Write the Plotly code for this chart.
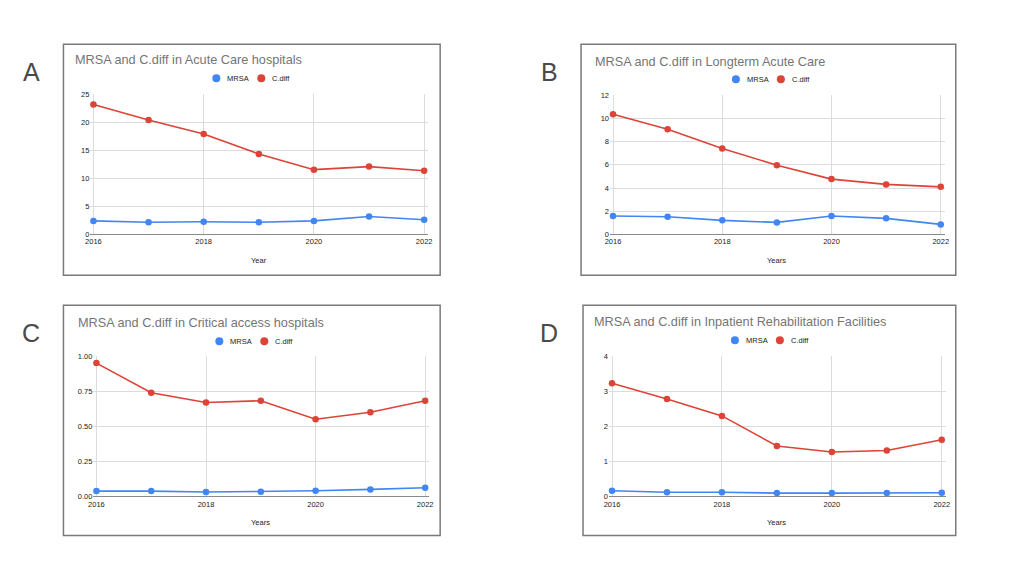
import plotly.graph_objects as go

# data
years = [2016, 2017, 2018, 2019, 2020, 2021, 2022]

acute_mrsa = [2.4, 2.15, 2.25, 2.15, 2.4, 3.2, 2.6]
acute_cdiff = [23.2, 20.4, 17.9, 14.35, 11.55, 12.1, 11.35]

ltac_mrsa = [1.58, 1.52, 1.21, 1.03, 1.58, 1.38, 0.86]
ltac_cdiff = [10.36, 9.07, 7.41, 5.97, 4.77, 4.31, 4.1]

cah_mrsa = [0.038, 0.038, 0.031, 0.033, 0.040, 0.050, 0.062]
cah_cdiff = [0.952, 0.740, 0.671, 0.683, 0.551, 0.601, 0.683]

irf_mrsa = [0.16, 0.12, 0.12, 0.095, 0.095, 0.095, 0.105]
irf_cdiff = [3.23, 2.78, 2.30, 1.44, 1.27, 1.31, 1.62]

series_names = ["MRSA", "C.diff"]
panel_titles = ["MRSA and C.diff in Acute Care hospitals",
                "MRSA and C.diff in Longterm Acute Care",
                "MRSA and C.diff in Critical access hospitals",
                "MRSA and C.diff in Inpatient Rehabilitation Facilities"]
panel_letters = ["A", "B", "C", "D"]
x_titles = ["Year", "Years", "Years", "Years"]
x_ticks = [2016, 2018, 2020, 2022]

W, H = 1024, 570
COLORS = ["#4285F4", "#DB4437"]
FONT = "Liberation Sans, Arial, sans-serif"


# screen pixel -> paper fraction (small correction for how the page gets photographed)
def px(x):
    return ((x - 4.5) / 0.992) / W


def py(y):
    return 1 - ((y - 3.7) / 0.984) / H


# layout in pixels: box, x of 2016 / 2022, y of 0 / top, title, legend dots, letter
panels = [
    dict(box=(63, 44, 440, 275), xl=93, xr=424, yb=234, yt=94, ymax=25, dtick=5, fmt="",
         title=(73, 60), leg=(216, 78), xt=260, letter=(31, 72),
         vals=[acute_mrsa, acute_cdiff]),
    dict(box=(581, 44, 956, 275), xl=613, xr=941, yb=234, yt=95, ymax=12, dtick=2, fmt="",
         title=(593, 62), leg=(736, 79), xt=260, letter=(549, 72),
         vals=[ltac_mrsa, ltac_cdiff]),
    dict(box=(63, 305, 440, 535), xl=96, xr=425, yb=496, yt=356, ymax=1, dtick=0.25, fmt=".2f",
         title=(76, 323), leg=(219, 341), xt=522, letter=(31, 333),
         vals=[cah_mrsa, cah_cdiff]),
    dict(box=(583, 305, 956, 535), xl=612, xr=942, yb=496, yt=356, ymax=4, dtick=1, fmt="",
         title=(592, 322), leg=(735, 340), xt=522, letter=(549, 333),
         vals=[irf_mrsa, irf_cdiff]),
]

fig = go.Figure()
shapes = []
annotations = []
layout = {}

for i, p in enumerate(panels):
    n = "" if i == 0 else str(i + 1)
    xa, ya = "x" + n, "y" + n

    for name, vals, col in zip(series_names, p["vals"], COLORS):
        fig.add_trace(go.Scatter(
            x=years, y=vals, mode="lines+markers", name=name,
            line=dict(color=col, width=1.6), marker=dict(color=col, size=6.5),
            xaxis=xa, yaxis=ya, showlegend=False, cliponaxis=False))

    ppy = (p["xr"] - p["xl"]) / 6.0
    layout["xaxis" + n] = dict(
        domain=[px(p["xl"] - 3), px(p["xr"] + 4)],
        range=[2016 - 3 / ppy, 2022 + 4 / ppy],
        anchor=ya, tickvals=x_ticks, ticks="", showgrid=True,
        gridcolor="#dcdcdc", gridwidth=1, zeroline=False,
        showline=True, linecolor="#8a8a8a", linewidth=1.2,
        tickfont=dict(size=7.5, color="#222222", family=FONT),
        fixedrange=True)
    layout["yaxis" + n] = dict(
        domain=[py(p["yb"]), py(p["yt"])],
        range=[0, p["ymax"]], dtick=p["dtick"], tickformat=p["fmt"],
        anchor=xa, ticks="", showgrid=True, gridcolor="#dcdcdc", gridwidth=1,
        zeroline=False, showline=False,
        tickfont=dict(size=7.5, color="#222222", family=FONT),
        fixedrange=True)

    # Google-Charts style legend: dot + label, 45px between entries
    lx, ly = p["leg"]
    for k, (name, col) in enumerate(zip(series_names, COLORS)):
        cx = lx + 45 * k
        shapes.append(dict(type="circle", xref="paper", yref="paper",
                           x0=px(cx - 4), x1=px(cx + 4), y0=py(ly + 4), y1=py(ly - 4),
                           fillcolor=col, line=dict(width=0)))
        annotations.append(dict(text=name, xref="paper", yref="paper",
                                x=px(cx + 9), y=py(ly), xanchor="left", yanchor="middle",
                                showarrow=False,
                                font=dict(size=7.5, color="#222222", family=FONT)))

    x0, y0, x1, y1 = p["box"]
    shapes.append(dict(type="rect", xref="paper", yref="paper",
                       x0=px(x0), x1=px(x1), y0=py(y1), y1=py(y0),
                       line=dict(color="#7a7a7a", width=1.5), layer="below"))

    annotations.append(dict(text=panel_titles[i], xref="paper", yref="paper",
                            x=px(p["title"][0]), y=py(p["title"][1]),
                            xanchor="left", yanchor="middle", showarrow=False,
                            font=dict(size=12.7, color="#757575", family=FONT)))
    annotations.append(dict(text=x_titles[i], xref="paper", yref="paper",
                            x=px((p["xl"] + p["xr"]) / 2), y=py(p["xt"]),
                            xanchor="center", yanchor="middle", showarrow=False,
                            font=dict(size=7.5, color="#222222", family=FONT)))
    annotations.append(dict(text=panel_letters[i], xref="paper", yref="paper",
                            x=px(p["letter"][0]), y=py(p["letter"][1]),
                            xanchor="center", yanchor="middle", showarrow=False,
                            font=dict(size=25, color="#4a4a4a", family=FONT)))

fig.update_layout(
    width=W, height=H, margin=dict(l=0, r=0, t=0, b=0),
    paper_bgcolor="white", plot_bgcolor="white",
    font=dict(family=FONT), showlegend=False,
    shapes=shapes, annotations=annotations, **layout)

# drop the page margin so the 1024x570 figure sits at the window origin
fig.write_html("out.html", config={"displayModeBar": False},
               post_script="document.body.style.margin='0';"
                           "document.body.style.overflow='hidden';")
